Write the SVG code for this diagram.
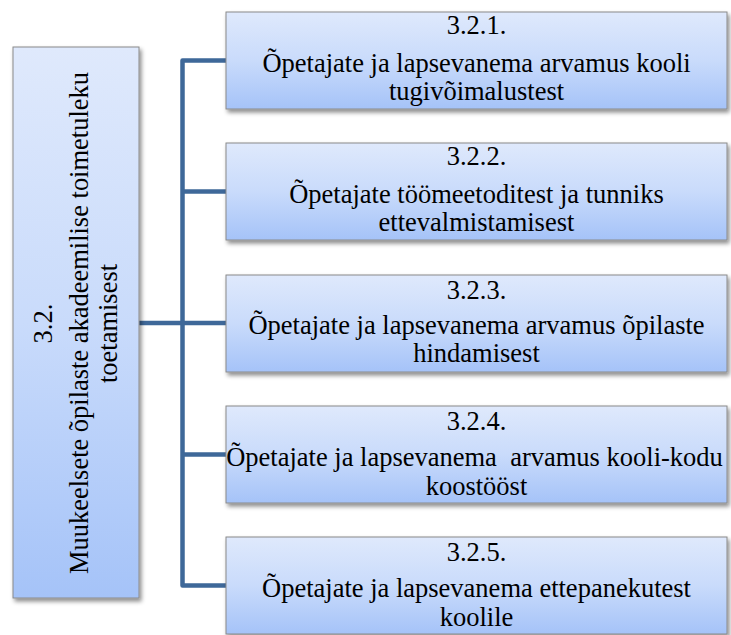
<svg xmlns="http://www.w3.org/2000/svg" width="731" height="635" viewBox="0 0 731 635">
  <defs>
    <linearGradient id="gv" x1="0" y1="0" x2="0" y2="1">
      <stop offset="0" stop-color="#dfe9fc"/>
      <stop offset="0.5" stop-color="#c9dbfb"/>
      <stop offset="1" stop-color="#a5c3f8"/>
    </linearGradient>
    <filter id="sh" x="-10%" y="-10%" width="120%" height="130%">
      <feDropShadow dx="2" dy="3" stdDeviation="2" flood-color="#000" flood-opacity="0.45"/>
    </filter>
    <style>
      .box { fill: url(#gv); stroke: #8a8a8a; stroke-width: 1; filter: url(#sh); }
      .t { font-family: 'Liberation Serif', 'DejaVu Serif', serif; font-size: 26.5px; fill: #000; text-anchor: middle; }
      .c { fill: none; stroke: #3e6899; stroke-width: 4.5; stroke-linejoin: round; }
    </style>
  </defs>
  <rect width="731" height="635" fill="#fff"/>

  <g id="connectors">
    <path class="c" d="M226 60.5 H182.5 V585.5 H226"/>
    <path class="c" d="M182.5 191.5 H226"/>
    <path class="c" d="M139 323 H226"/>
    <path class="c" d="M182.5 454.5 H226"/>
  </g>

  <g id="n32">
    <rect class="box" x="13" y="47" width="126" height="551"/>
    <text class="t" transform="translate(52 323.5) rotate(-90)" x="0" y="0">3.2.</text>
    <text class="t" transform="translate(88 323) rotate(-90)" x="0" y="0" textLength="502" lengthAdjust="spacing">Muukeelsete õpilaste akadeemilise toimetuleku</text>
    <text class="t" transform="translate(117 323.5) rotate(-90)" x="0" y="0">toetamisest</text>
  </g>

  <g id="n321">
    <rect class="box" x="226" y="12" width="501" height="97"/>
    <text class="t" x="476.5" y="34">3.2.1.</text>
    <text class="t" x="476.5" y="72">Õpetajate ja lapsevanema arvamus kooli</text>
    <text class="t" x="476.5" y="100">tugivõimalustest</text>
  </g>

  <g id="n322">
    <rect class="box" x="226" y="143" width="501" height="97"/>
    <text class="t" x="476.5" y="165">3.2.2.</text>
    <text class="t" x="476.5" y="203">Õpetajate töömeetoditest ja tunniks</text>
    <text class="t" x="476.5" y="231">ettevalmistamisest</text>
  </g>

  <g id="n323">
    <rect class="box" x="226" y="275" width="501" height="97"/>
    <text class="t" x="476.5" y="299">3.2.3.</text>
    <text class="t" x="476.5" y="334">Õpetajate ja lapsevanema arvamus õpilaste</text>
    <text class="t" x="476.5" y="362">hindamisest</text>
  </g>

  <g id="n324">
    <rect class="box" x="226" y="406" width="501" height="97"/>
    <text class="t" x="476.5" y="430">3.2.4.</text>
    <text class="t" x="474.5" y="466">Õpetajate ja lapsevanema&#160; arvamus kooli-kodu</text>
    <text class="t" x="476.5" y="495">koostööst</text>
  </g>

  <g id="n325">
    <rect class="box" x="226" y="537" width="501" height="97"/>
    <text class="t" x="476.5" y="561">3.2.5.</text>
    <text class="t" x="476.5" y="597">Õpetajate ja lapsevanema ettepanekutest</text>
    <text class="t" x="476.5" y="626">koolile</text>
  </g>
</svg>
